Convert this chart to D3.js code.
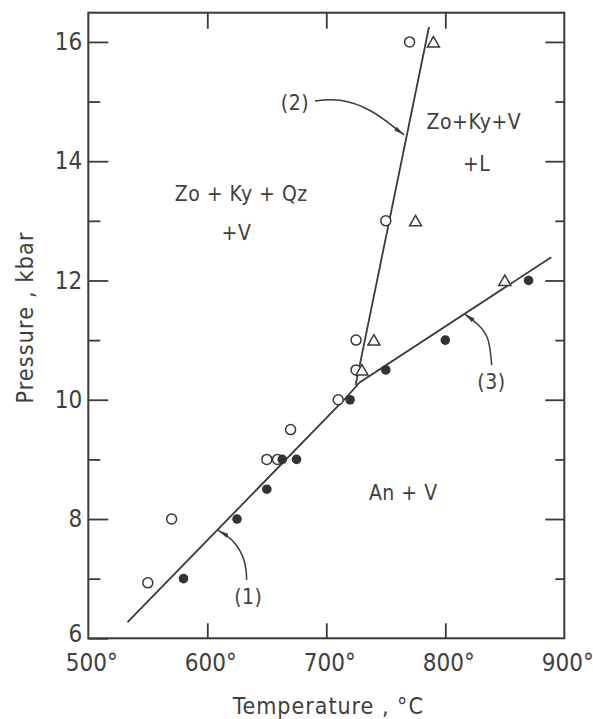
<!DOCTYPE html>
<html>
<head>
<meta charset="utf-8">
<script src="https://cdn.jsdelivr.net/npm/d3@7"></script>
<style>
  body { margin: 0; background: #fff; }
  svg text { font-family: "Liberation Sans Narrow", "DejaVu Sans Condensed", "Roboto Condensed", "Liberation Sans", sans-serif; fill: #404040; }
</style>
</head>
<body>
<div class="chart"></div>
<script>
// axis ticks
const tempTicks = [500, 600, 700, 800, 900];
const pressMajor = [6, 8, 10, 12, 14, 16];
const pressMinor = [7, 9, 11, 13, 15];

// experimental runs (temperature C, pressure kbar)
const openCircles = [[550, 6.93], [570, 8], [650, 9], [659, 9], [670, 9.5], [710, 10], [725, 10.5], [725, 11], [750, 13], [770, 16]];
const filledCircles = [[580, 7], [625, 8], [650, 8.5], [663, 9], [675, 9], [720, 10], [750, 10.5], [800, 11], [870, 12]];
const triangles = [[730, 10.5], [740, 11], [775, 13], [790, 16], [850, 12]];

// reaction curves
const curve1and3 = [[533, 6.27], [715, 10.0], [728, 10.29], [889, 12.39]];
const curve2 = [[724.7, 10.25], [786.3, 16.25]];

// labels and pointer arrows
const fieldLabels = [
  { text: 'Zo + Ky + Qz', t: 628.5, p: 13.46 },
  { text: '+V', t: 624.5, p: 12.80 },
  { text: 'Zo+Ky+V', t: 824, p: 14.66 },
  { text: '+L', t: 826.4, p: 13.97 },
  { text: 'An + V', t: 764.7, p: 8.44 }
];
const curveLabels = [
  { text: '(1)', t: 634.5, p: 6.70 },
  { text: '(2)', t: 673.7, p: 14.98 },
  { text: '(3)', t: 838.8, p: 10.30 }
];
const arrows = [
  [[633.1, 6.98], [631, 7.3], [622, 7.62], [609, 7.81]],
  [[690.5, 15.01], [711.5, 15.02], [736.7, 14.85], [756.3, 14.58], [765.5, 14.44]],
  [[839, 10.58], [836, 11.0], [828, 11.25], [816, 11.44]]
];

const width = 593, height = 719;
const ink = '#3a3a3a';

const svg = d3.select('.chart')
    .append('svg')
    .attr('width', width)
    .attr('height', height);

const x = d3.scaleLinear().domain([500, 900]).range([88.3, 564.3]);
const y = d3.scaleLinear().domain([6, 16.49]).range([638.3, 12.7]);

//arrowhead
svg.append('defs').append('marker')
    .attr('id', 'head')
    .attr('markerUnits', 'userSpaceOnUse')
    .attr('viewBox', '0 0 11 6')
    .attr('refX', 11).attr('refY', 3)
    .attr('markerWidth', 11).attr('markerHeight', 6)
    .attr('orient', 'auto')
  .append('path')
    .attr('d', 'M0,0.8 L11,3 L0,5.2 Z')
    .attr('fill', ink);

//frame
svg.append('rect')
    .attr('x', x(500)).attr('y', y.range()[1])
    .attr('width', x(900) - x(500))
    .attr('height', y(6) - y.range()[1])
    .attr('fill', 'none')
    .attr('stroke', ink)
    .attr('stroke-width', 2);

//axes with inward ticks
const styleAxis = g => {
    g.select('.domain').remove();
    g.selectAll('line').attr('stroke', ink).attr('stroke-width', 1.8);
    g.selectAll('text').attr('fill', '#404040');
};

svg.append('g')
    .attr('transform', `translate(${x(500)},0)`)
    .call(d3.axisLeft(y).tickValues(pressMajor).tickSize(-20).tickPadding(6).tickFormat(d3.format('d')))
    .call(styleAxis)
    .call(g => g.selectAll('text').attr('font-size', 24))
    .call(g => g.selectAll('text').filter(d => d === 6).attr('y', -4));

svg.append('g')
    .attr('transform', `translate(${x(500)},0)`)
    .call(d3.axisLeft(y).tickValues(pressMinor).tickSize(-12).tickFormat(''))
    .call(styleAxis);

svg.append('g')
    .attr('transform', `translate(${x(900)},0)`)
    .call(d3.axisRight(y).tickValues(pressMajor.slice(1)).tickSize(-19).tickFormat(''))
    .call(styleAxis);

svg.append('g')
    .attr('transform', `translate(${x(900)},0)`)
    .call(d3.axisRight(y).tickValues(pressMinor).tickSize(-9).tickFormat(''))
    .call(styleAxis);

svg.append('g')
    .attr('transform', `translate(0,${y.range()[1]})`)
    .call(d3.axisTop(x).tickValues(tempTicks.slice(1, -1)).tickSize(-16).tickFormat(''))
    .call(styleAxis);

svg.append('g')
    .attr('transform', `translate(0,${y(6)})`)
    .call(d3.axisBottom(x).tickValues(tempTicks).tickSize(-15).tickFormat(d => d + '°'))
    .call(styleAxis)
    .call(g => g.selectAll('line').filter(d => d === 500 || d === 900).remove())
    .call(g => g.selectAll('text')
        .attr('font-size', 24)
        .attr('y', 33).attr('dy', 0).attr('dx', 3));

//axis titles
svg.append('text')
    .attr('x', (x(500) + x(900)) / 2 + 2)
    .attr('y', 714)
    .attr('text-anchor', 'middle')
    .attr('font-size', 23)
    .attr('letter-spacing', 1)
    .text('Temperature , °C');

svg.append('text')
    .attr('transform', `translate(33,${(y(6) + y(16.49)) / 2 - 8}) rotate(-90)`)
    .attr('text-anchor', 'middle')
    .attr('font-size', 23)
    .attr('letter-spacing', 1.2)
    .text('Pressure , kbar');

//reaction curves
const line = d3.line().x(d => x(d[0])).y(d => y(d[1]));

svg.selectAll('path.curve')
    .data([curve1and3, curve2])
    .enter()
  .append('path')
    .attr('class', 'curve')
    .attr('d', line)
    .attr('fill', 'none')
    .attr('stroke', ink)
    .attr('stroke-width', 1.8);

//pointer arrows
const arrowLine = d3.line().x(d => x(d[0])).y(d => y(d[1])).curve(d3.curveNatural);

svg.selectAll('path.arrow')
    .data(arrows)
    .enter()
  .append('path')
    .attr('class', 'arrow')
    .attr('d', arrowLine)
    .attr('fill', 'none')
    .attr('stroke', ink)
    .attr('stroke-width', 1.5)
    .attr('marker-end', 'url(#head)');

//data points
svg.selectAll('circle.open')
    .data(openCircles)
    .enter()
  .append('circle')
    .attr('class', 'open')
    .attr('cx', d => x(d[0]))
    .attr('cy', d => y(d[1]))
    .attr('r', 5)
    .attr('fill', '#fff')
    .attr('stroke', ink)
    .attr('stroke-width', 1.5);

svg.selectAll('circle.filled')
    .data(filledCircles)
    .enter()
  .append('circle')
    .attr('class', 'filled')
    .attr('cx', d => x(d[0]))
    .attr('cy', d => y(d[1]))
    .attr('r', 4.8)
    .attr('fill', '#333');

const tri = d3.symbol().type(d3.symbolTriangle).size(62);
svg.selectAll('path.tri')
    .data(triangles)
    .enter()
  .append('path')
    .attr('class', 'tri')
    .attr('d', tri)
    .attr('transform', d => `translate(${x(d[0])},${y(d[1]) + 1.5})`)
    .attr('fill', '#fff')
    .attr('stroke', ink)
    .attr('stroke-width', 1.5);

//text labels
svg.selectAll('text.field')
    .data(fieldLabels.concat(curveLabels))
    .enter()
  .append('text')
    .attr('class', 'field')
    .attr('x', d => x(d.t))
    .attr('y', d => y(d.p))
    .attr('dy', '0.36em')
    .attr('text-anchor', 'middle')
    .attr('font-size', 21)
    .attr('letter-spacing', 0.5)
    .text(d => d.text);
</script>
</body>
</html>
